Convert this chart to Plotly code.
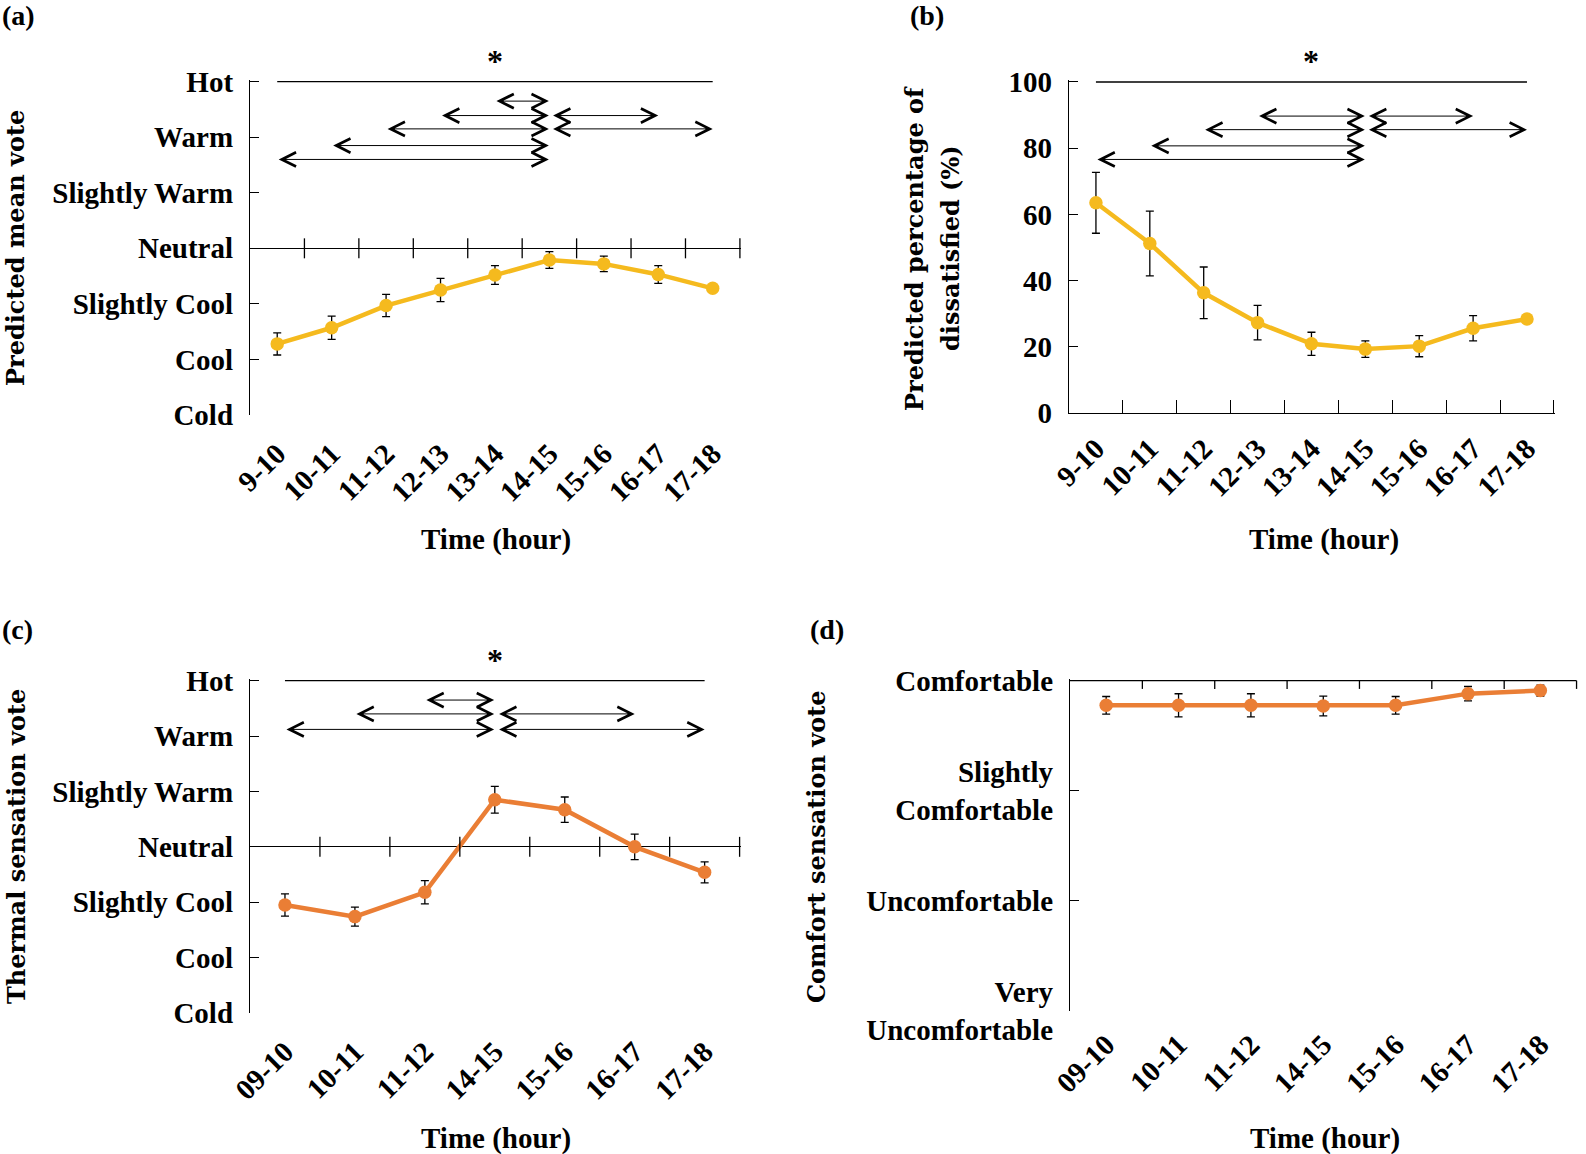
import plotly.graph_objects as go

# ---------------- data ----------------
hours_ab = ["9-10", "10-11", "11-12", "12-13", "13-14", "14-15", "15-16", "16-17", "17-18"]
pmv = [-1.72, -1.43, -1.03, -0.75, -0.48, -0.21, -0.28, -0.47, -0.72]
pmv_err = [0.20, 0.21, 0.20, 0.21, 0.17, 0.15, 0.14, 0.16, 0.05]
ppd = [63.5, 51.2, 36.3, 27.3, 20.9, 19.3, 20.2, 25.6, 28.4]
ppd_err = [9.2, 9.8, 7.8, 5.2, 3.5, 2.5, 3.2, 3.8, 1.0]

hours_cd = ["09-10", "10-11", "11-12", "14-15", "15-16", "16-17", "17-18"]
tsv = [-1.05, -1.26, -0.82, 0.85, 0.67, 0.00, -0.46]
tsv_err = [0.20, 0.17, 0.21, 0.24, 0.23, 0.23, 0.19]
csv_ = [-0.224, -0.224, -0.224, -0.23, -0.224, -0.118, -0.09]
csv_err = [0.08, 0.105, 0.105, 0.09, 0.08, 0.065, 0.05]

thermal_vals = [3, 2, 1, 0, -1, -2, -3]
thermal_text = ["Hot", "Warm", "Slightly Warm", "Neutral", "Slightly Cool", "Cool", "Cold"]
comfort_vals = [0, -1, -2, -3]
comfort_text = ["Comfortable", "Slightly<br>Comfortable", "Uncomfortable", "Very<br>Uncomfortable"]
ppd_ticks = [0, 20, 40, 60, 80, 100]

# significance arrows: (from, to, level)
sig_a = [("13-14", "14-15", 2.65), ("12-13", "14-15", 2.39), ("14-15", "16-17", 2.39),
         ("11-12", "14-15", 2.15), ("14-15", "17-18", 2.15), ("10-11", "14-15", 1.85),
         ("9-10", "14-15", 1.60)]
sig_b = [("12-13", "14-15", 89.7), ("14-15", "16-17", 89.7), ("11-12", "14-15", 85.6),
         ("14-15", "17-18", 85.6), ("10-11", "14-15", 80.7), ("9-10", "14-15", 76.6)]
sig_c = [("11-12", "14-15", 2.65), ("10-11", "14-15", 2.40), ("14-15", "16-17", 2.40),
         ("09-10", "14-15", 2.12), ("14-15", "17-18", 2.12)]

GOLD = "#F5BA1E"
ORANGE = "#EA7E35"
FONT = "Liberation Serif"
TITLE_FONT = "DejaVu Serif"
W, H = 1586, 1154

def fx(px):
    return px / W

def fy(py):
    return 1 - py / H

fig = go.Figure()

def add_series(cats, vals, errs, color, xa, ya):
    fig.add_trace(go.Scatter(
        x=cats, y=vals, mode="lines+markers", xaxis=xa, yaxis=ya,
        line=dict(color=color, width=4.5), marker=dict(color=color, size=13.5),
        error_y=dict(type="data", array=errs, color="black", thickness=1.3, width=4),
        showlegend=False, cliponaxis=False))

add_series(hours_ab, pmv, pmv_err, GOLD, "x", "y")
add_series(hours_ab, ppd, ppd_err, GOLD, "x2", "y2")
add_series(hours_cd, tsv, tsv_err, ORANGE, "x3", "y3")
add_series(hours_cd, csv_, csv_err, ORANGE, "x4", "y4")

tickfont = dict(family=FONT, size=29, color="black", weight="bold")

def xaxis(domain, cats, anchor, **kw):
    d = dict(domain=domain, type="category", categoryorder="array", categoryarray=cats,
             range=[-0.5, len(cats) - 0.48], anchor=anchor, tickangle=-45,
             tickfont=tickfont, showgrid=False, zeroline=False, fixedrange=True,
             automargin=False)
    d.update(kw)
    return d

def yaxis(domain, anchor, **kw):
    d = dict(domain=domain, anchor=anchor, showline=True, linecolor="black", linewidth=1.3,
             ticks="inside", ticklen=9, tickcolor="black", tickwidth=1.3,
             tickfont=tickfont, showgrid=False, ticklabelstandoff=10, fixedrange=True,
             automargin=False)
    d.update(kw)
    return d

dom_ax = [fx(250), fx(741)]
dom_bx = [fx(1069), fx(1555)]
dom_dx = [fx(1070), fx(1578)]
dom_top = [fy(415), fy(80)]
dom_top_b = [fy(413), fy(80)]
dom_bot = [fy(1013), fy(679)]
dom_bot_d = [fy(1011), fy(679)]

fig.update_layout(
    xaxis=xaxis(dom_ax, hours_ab, "y", showline=False, ticks="", ticklabelstandoff=15),
    yaxis=yaxis(dom_top, "x", range=[-3, 3.03], tickvals=thermal_vals, ticktext=thermal_text,
                zeroline=True, zerolinecolor="black", zerolinewidth=1.3),
    xaxis2=xaxis(dom_bx, hours_ab, "y2", showline=True, linecolor="black", linewidth=1.3,
                 ticks="inside", tickson="boundaries", ticklen=13, tickcolor="black",
                 tickwidth=1.3, ticklabelstandoff=6),
    yaxis2=yaxis(dom_top_b, "x2", range=[0, 100.6], tickvals=ppd_ticks, zeroline=False),
    xaxis3=xaxis(dom_ax, hours_cd, "y3", showline=False, ticks="", ticklabelstandoff=15),
    yaxis3=yaxis(dom_bot, "x3", range=[-3, 3.03], tickvals=thermal_vals, ticktext=thermal_text,
                 zeroline=True, zerolinecolor="black", zerolinewidth=1.3),
    xaxis4=xaxis(dom_dx, hours_cd, "y4", showline=False, ticks="", ticklabelstandoff=10),
    yaxis4=yaxis(dom_bot_d, "x4", range=[-3, 0.015], tickvals=comfort_vals,
                 ticktext=comfort_text, zeroline=False),
)

shapes = []
annotations = []

def boundary_ticks(cats, xr, yr, y0, y1):
    for i in range(len(cats)):
        shapes.append(dict(type="line", xref=xr, yref=yr, x0=i + 0.5, x1=i + 0.5,
                           y0=y0, y1=y1, line=dict(color="black", width=1.3)))

boundary_ticks(hours_ab, "x", "y", -0.18, 0.18)
boundary_ticks(hours_cd, "x3", "y3", -0.18, 0.18)
boundary_ticks(hours_cd, "x4", "y4", 0, -0.075)
shapes.append(dict(type="line", xref="x4", yref="y4", x0=-0.5, x1=len(hours_cd) - 0.5,
                   y0=0, y1=0, line=dict(color="black", width=1.3)))

def sig_block(cats, sig, top, xr, yr):
    idx = {c: i for i, c in enumerate(cats)}
    shapes.append(dict(type="line", xref=xr, yref=yr, x0=0, x1=len(cats) - 1, y0=top, y1=top,
                       line=dict(color="black", width=1.3)))
    annotations.append(dict(xref=xr, yref=yr, x=(len(cats) - 1) / 2, y=top, text="*",
                            showarrow=False, yanchor="bottom", yshift=1,
                            font=dict(family=FONT, size=32, color="black", weight="bold")))
    for a, b, lvl in sig:
        ia, ib = idx[a], idx[b]
        if ia < ib and b == "14-15":
            x0, x1 = ia, ib - 0.01
        else:
            x0, x1 = ia + 0.04, ib
        annotations.append(dict(xref=xr, yref=yr, axref=xr, ayref=yr, x=x1, y=lvl,
                                ax=x0, ay=lvl, text="", showarrow=True,
                                arrowside="end+start", arrowhead=5, startarrowhead=5,
                                arrowsize=2.8, startarrowsize=2.8, arrowwidth=1.0,
                                arrowcolor="black", standoff=0, startstandoff=0))

sig_block(hours_ab, sig_a, 3, "x", "y")
sig_block(hours_ab, sig_b, 100, "x2", "y2")
sig_block(hours_cd, sig_c, 3, "x3", "y3")

def paper_text(text, x, y, size, family=FONT, angle=0, xanchor="center"):
    annotations.append(dict(xref="paper", yref="paper", x=fx(x), y=fy(y), text=text,
                            showarrow=False, textangle=angle, xanchor=xanchor,
                            yanchor="middle",
                            font=dict(family=family, size=size, color="black", weight="bold")))

# panel labels
paper_text("(a)", 0, 16, 28, xanchor="left")
paper_text("(b)", 908, 16, 28, xanchor="left")
paper_text("(c)", 0, 629, 28, xanchor="left")
paper_text("(d)", 808, 629, 28, xanchor="left")

# axis titles
paper_text("Time (hour)", 496, 539, 29)
paper_text("Time (hour)", 1324, 539, 29)
paper_text("Time (hour)", 496, 1138, 29)
paper_text("Time (hour)", 1325, 1138, 29)
paper_text("Predicted mean vote", 16, 248, 24, family=TITLE_FONT, angle=-90)
paper_text("Predicted percentage of", 915, 248, 24, family=TITLE_FONT, angle=-90)
paper_text("dissatisfied (%)", 951, 248, 24, family=TITLE_FONT, angle=-90)
paper_text("Thermal sensation vote", 16, 847, 24, family=TITLE_FONT, angle=-90)
paper_text("Comfort sensation vote", 816, 847, 24, family=TITLE_FONT, angle=-90)

fig.update_layout(shapes=shapes, annotations=annotations, width=W, height=H,
                  margin=dict(l=0, r=0, t=0, b=0, pad=0, autoexpand=False),
                  paper_bgcolor="white", plot_bgcolor="white", showlegend=False)

fig.write_html("out.html", config={"displayModeBar": False},
               post_script="document.body.style.margin='0';document.body.style.overflow='hidden';")
